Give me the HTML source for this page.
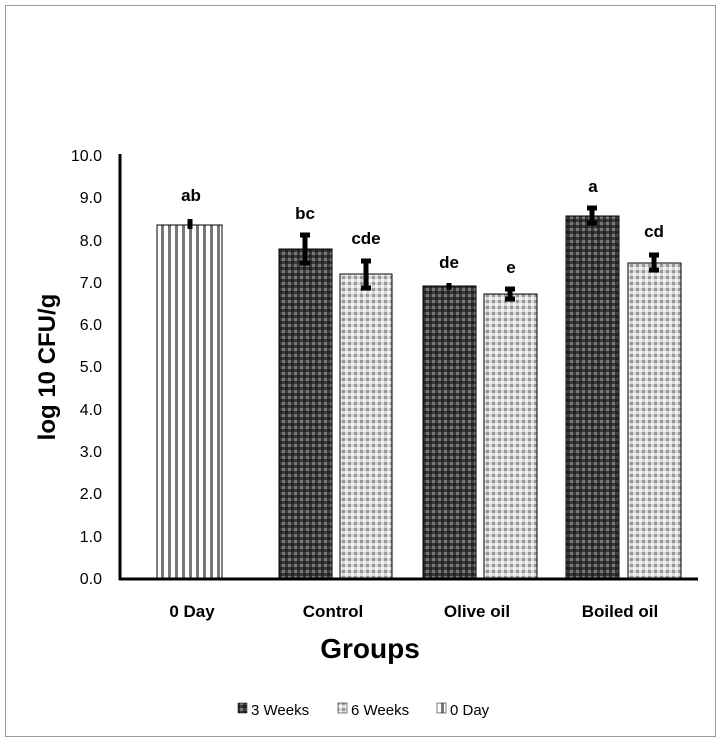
<!DOCTYPE html>
<html><head><style>body{margin:0;background:#fff}svg{display:block}</style></head><body>
<svg width="721" height="745" xmlns="http://www.w3.org/2000/svg" font-family="'Liberation Sans',sans-serif">
<defs>
<pattern id="dk" width="6" height="6" patternUnits="userSpaceOnUse"><rect width="6" height="6" fill="#3a3a3a"/><rect x="0" y="0" width="3" height="3" fill="#777"/><rect x="3" y="3" width="3" height="3" fill="#222"/></pattern>
<pattern id="lt" width="6" height="6" patternUnits="userSpaceOnUse"><rect width="6" height="6" fill="#d8d8d8"/><rect x="0" y="0" width="3" height="3" fill="#999"/><rect x="3" y="3" width="3" height="3" fill="#f4f4f4"/></pattern>
<pattern id="vs" width="7" height="8" patternUnits="userSpaceOnUse"><rect width="7" height="8" fill="#fff"/><rect x="0" width="3" height="8" fill="#777"/></pattern>
</defs>
<rect x="5.5" y="5.5" width="710" height="731" fill="#fff" stroke="#999"/>
<g fill="#000" font-size="16" text-anchor="end">
<text x="102" y="584">0.0</text><text x="102" y="542">1.0</text><text x="102" y="499">2.0</text><text x="102" y="457">3.0</text><text x="102" y="415">4.0</text><text x="102" y="372">5.0</text><text x="102" y="330">6.0</text><text x="102" y="288">7.0</text><text x="102" y="246">8.0</text><text x="102" y="203">9.0</text><text x="102" y="161">10.0</text>
</g>
<g stroke="#000" stroke-width="1">
<rect x="157" y="225" width="65" height="353" fill="url(#vs)"/>
<rect x="279" y="249" width="53" height="329" fill="url(#dk)"/>
<rect x="340" y="274" width="52" height="304" fill="url(#lt)"/>
<rect x="423" y="286" width="53" height="292" fill="url(#dk)"/>
<rect x="484" y="294" width="53" height="284" fill="url(#lt)"/>
<rect x="566" y="216" width="53" height="362" fill="url(#dk)"/>
<rect x="628" y="263" width="53" height="315" fill="url(#lt)"/>
</g>
<g stroke="#000" stroke-width="5">
<line x1="190" y1="219" x2="190" y2="229"/>
<line x1="305" y1="234" x2="305" y2="264"/><line x1="300" y1="235" x2="310" y2="235"/><line x1="300" y1="263" x2="310" y2="263"/>
<line x1="366" y1="260" x2="366" y2="289"/><line x1="361" y1="261" x2="371" y2="261"/><line x1="361" y1="288" x2="371" y2="288"/>
<line x1="449" y1="283" x2="449" y2="290"/>
<line x1="510" y1="288" x2="510" y2="300"/><line x1="505" y1="289" x2="515" y2="289"/><line x1="505" y1="299" x2="515" y2="299"/>
<line x1="592" y1="207" x2="592" y2="224"/><line x1="587" y1="208" x2="597" y2="208"/><line x1="587" y1="223" x2="597" y2="223"/>
<line x1="654" y1="254" x2="654" y2="271"/><line x1="649" y1="255" x2="659" y2="255"/><line x1="649" y1="270" x2="659" y2="270"/>
</g>
<line x1="120" y1="154" x2="120" y2="580" stroke="#000" stroke-width="3"/>
<line x1="119" y1="579" x2="698" y2="579" stroke="#000" stroke-width="3"/>
<g font-size="17" font-weight="bold" text-anchor="middle">
<text x="191" y="201">ab</text><text x="305" y="219">bc</text><text x="366" y="244">cde</text><text x="449" y="268">de</text><text x="511" y="273">e</text><text x="593" y="192">a</text><text x="654" y="237">cd</text>
</g>
<g font-size="17" font-weight="bold" text-anchor="middle">
<text x="192" y="617">0 Day</text><text x="333" y="617">Control</text><text x="477" y="617">Olive oil</text><text x="620" y="617">Boiled oil</text>
</g>
<text x="370" y="658" font-size="28" font-weight="bold" text-anchor="middle">Groups</text>
<text transform="translate(55,367) rotate(-90)" font-size="24" font-weight="bold" text-anchor="middle">log 10 CFU/g</text>
<g font-size="15">
<rect x="238" y="703" width="9" height="10" fill="url(#dk)" stroke="#000" stroke-width="0.5"/><text x="251" y="715">3 Weeks</text>
<rect x="338" y="703" width="9" height="10" fill="url(#lt)" stroke="#000" stroke-width="0.5"/><text x="351" y="715">6 Weeks</text>
<rect x="437" y="703" width="9" height="10" fill="url(#vs)" stroke="#000" stroke-width="0.5"/><text x="450" y="715">0 Day</text>
</g>
</svg>
</body></html>
